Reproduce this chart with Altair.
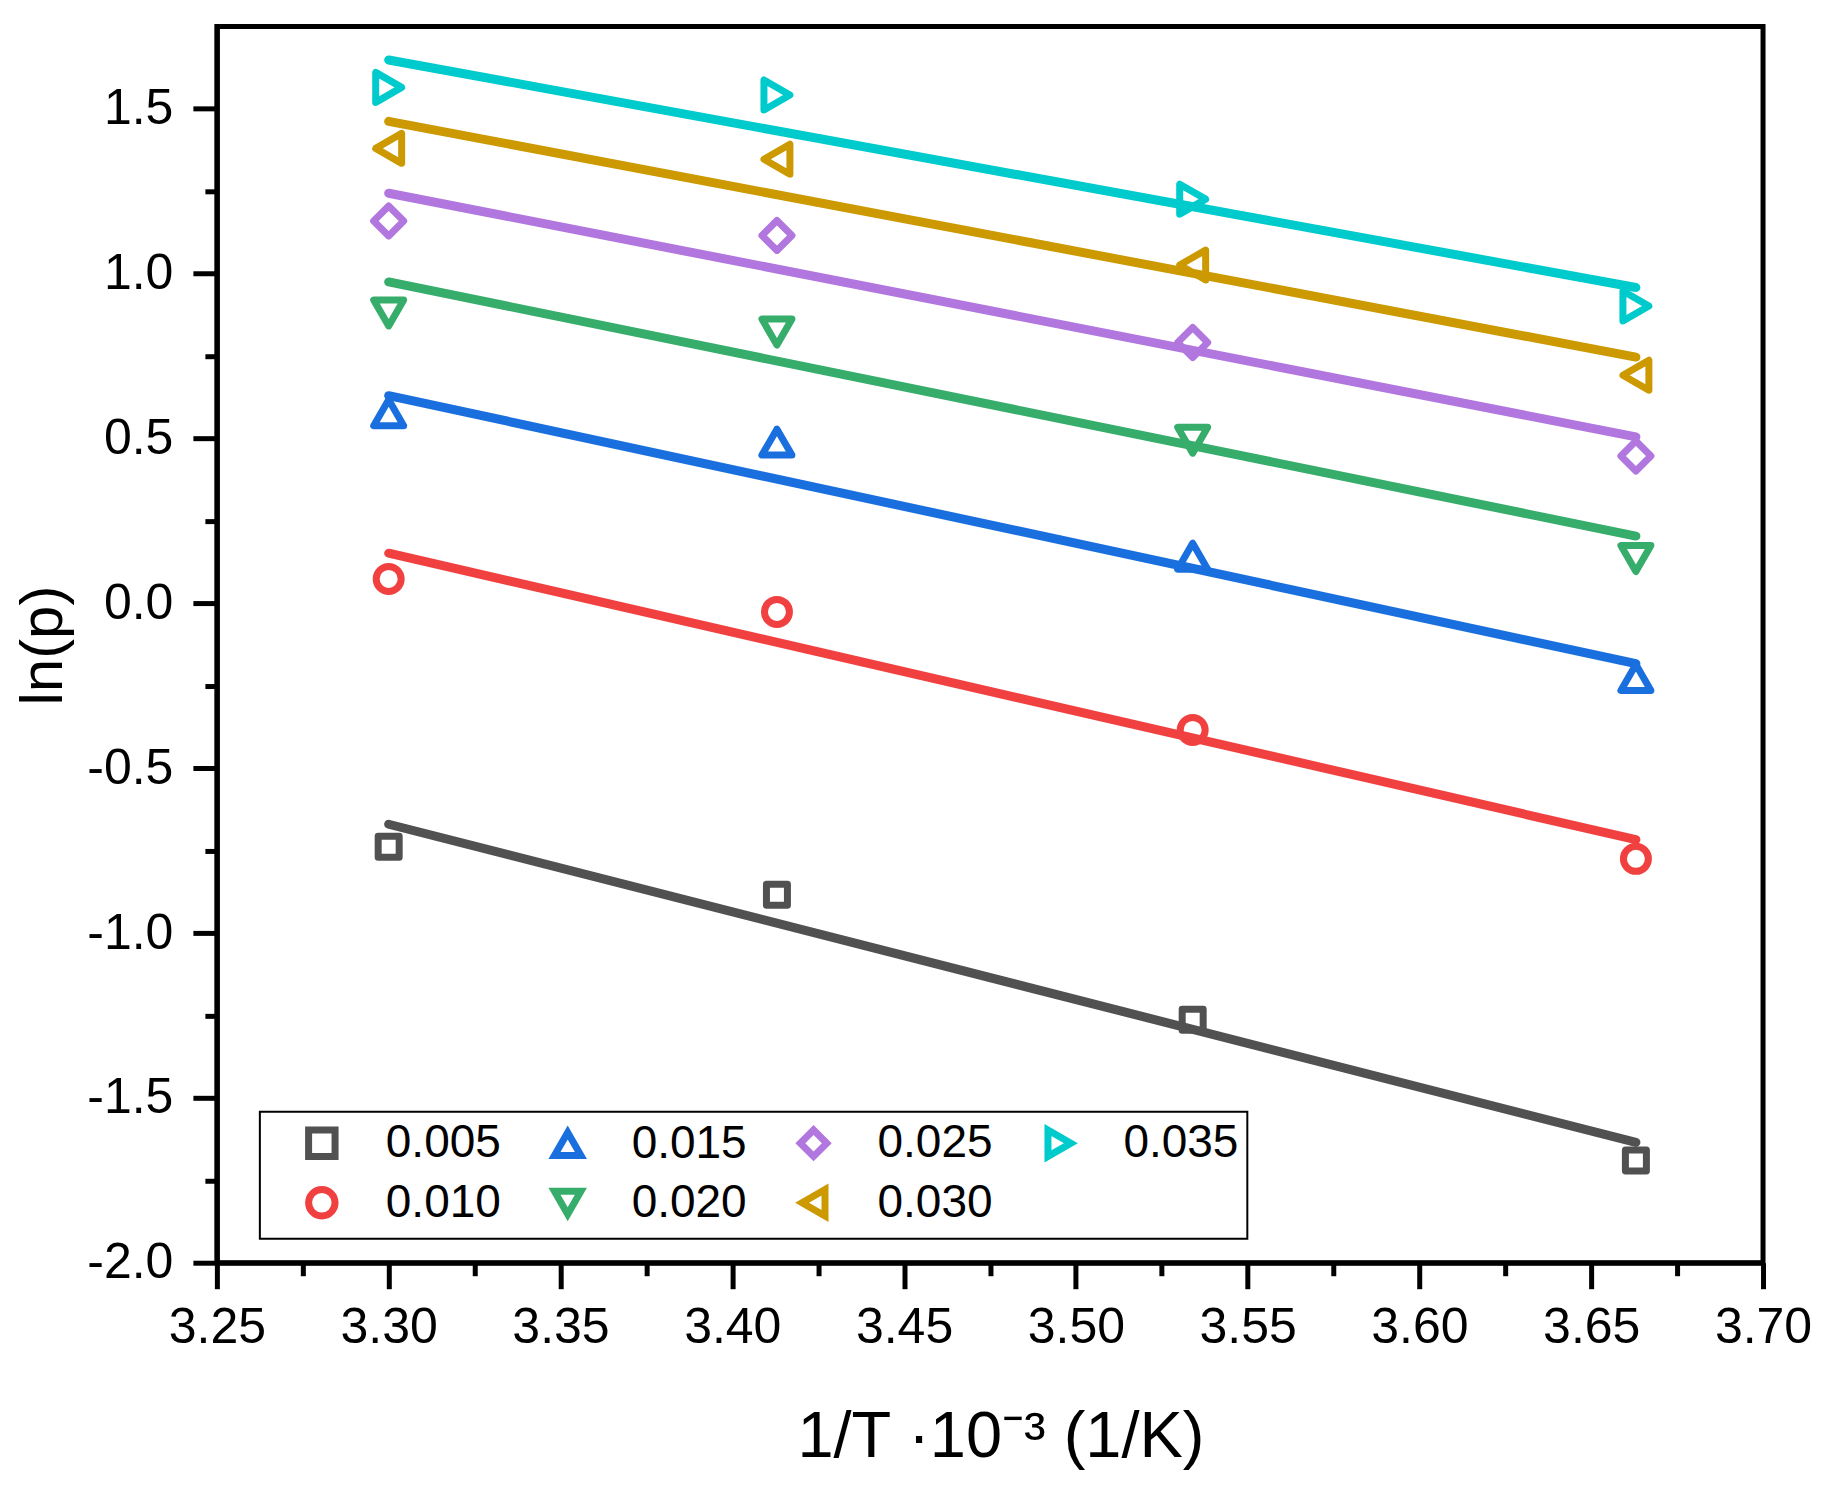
import pandas as pd
import altair as alt

# 1/T * 10^-3 (1/K) for 303, 293, 283 and 273 K
inv_T = [3.300, 3.413, 3.534, 3.663]

series = ['0.005', '0.010', '0.015', '0.020', '0.025', '0.030', '0.035']

# measured ln(p) for each series
lnp_005 = [-0.738, -0.884, -1.263, -1.690]
lnp_010 = [0.074, -0.026, -0.384, -0.775]
lnp_015 = [0.578, 0.489, 0.143, -0.225]
lnp_020 = [0.881, 0.823, 0.495, 0.136]
lnp_025 = [1.160, 1.116, 0.791, 0.447]
lnp_030 = [1.380, 1.347, 1.026, 0.692]
lnp_035 = [1.565, 1.542, 1.226, 0.902]

# fitted lines, value at first and last 1/T
fit_first = [-0.670, 0.152, 0.630, 0.975, 1.244, 1.462, 1.648]
fit_last = [-1.635, -0.717, -0.183, 0.204, 0.505, 0.747, 0.958]

# Origin default palette and symbols, in series order
colors = ['#515151', '#F14040', '#1A6FDF', '#37AD6B', '#B177DE', '#CC9900', '#00CBCC']
shapes = ['square', 'circle', 'triangle-up', 'triangle-down', 'diamond', 'triangle-left', 'triangle-right']
sizes = [441, 625, 900, 900, 900, 900, 900]

measured = [lnp_005, lnp_010, lnp_015, lnp_020, lnp_025, lnp_030, lnp_035]
points = pd.DataFrame(
    [{'x': x, 'y': y, 'c': s} for s, ys in zip(series, measured) for x, y in zip(inv_T, ys)]
)
points['sz'] = points['c'].map(dict(zip(series, sizes)))
lines = pd.DataFrame(
    [{'x': inv_T[0], 'y': a, 'c': s} for s, a in zip(series, fit_first)]
    + [{'x': inv_T[-1], 'y': b, 'c': s} for s, b in zip(series, fit_last)]
)

FONT = 'Liberation Sans'
x_scale = alt.Scale(domain=[3.25, 3.70], nice=False, zero=False)
y_scale = alt.Scale(domain=[-2.0, 1.75], nice=False, zero=False)
color_scale = alt.Scale(domain=series, range=colors)

x_major = [3.25, 3.30, 3.35, 3.40, 3.45, 3.50, 3.55, 3.60, 3.65, 3.70]
x_minor = [3.275, 3.325, 3.375, 3.425, 3.475, 3.525, 3.575, 3.625, 3.675]
y_major = [-2.0, -1.5, -1.0, -0.5, 0.0, 0.5, 1.0, 1.5]
y_minor = [-1.75, -1.25, -0.75, -0.25, 0.25, 0.75, 1.25]

x_axis_major = alt.Axis(
    orient='bottom', values=x_major, format='.2f', title='1/T ·10⁻³ (1/K)',
    domainWidth=5, domainColor='black', tickWidth=5, tickSize=26, tickColor='black',
    labelFontSize=50, labelPadding=14, labelFont=FONT, labelColor='black', labelFlush=False,
    titleFontSize=65, titleFont=FONT, titleFontWeight='normal', titleColor='black',
    titleBaseline='alphabetic', titleX=784, titleY=194, grid=False,
)
x_axis_minor = alt.Axis(
    orient='bottom', values=x_minor, labels=False, title=None, domain=False,
    tickWidth=5, tickSize=13, tickColor='black', grid=False,
)
y_axis_major = alt.Axis(
    orient='left', values=y_major, title='ln(p)',
    labelExpr="datum.value < 0 ? '-' + format(-datum.value, '.1f') : format(datum.value, '.1f')",
    domainWidth=5, domainColor='black', tickWidth=5, tickSize=24, tickColor='black',
    labelFontSize=50, labelPadding=20, labelFont=FONT, labelColor='black', labelFlush=False,
    titleFontSize=60, titleFont=FONT, titleFontWeight='normal', titleColor='black',
    titleAngle=270, titleBaseline='alphabetic', titleAlign='center', titleX=-155, titleY=619,
    grid=False,
)
y_axis_minor = alt.Axis(
    orient='left', values=y_minor, labels=False, title=None, domain=False,
    tickWidth=5, tickSize=12, tickColor='black', grid=False,
)

fit = alt.Chart(lines).mark_line(strokeWidth=9, strokeCap='round').encode(
    x=alt.X('x:Q', scale=x_scale, axis=x_axis_minor),
    y=alt.Y('y:Q', scale=y_scale, axis=y_axis_minor),
    color=alt.Color('c:N', scale=color_scale, legend=None),
    detail='c:N',
)

# entries fill column by column, two rows
legend = alt.Legend(
    title=None, orient='none', legendX=43, legendY=1086, columns=4,
    labelFontSize=46, labelFont=FONT, labelColor='black',
    symbolStrokeWidth=7, symbolSize=700, symbolOffset=31, labelOffset=41,
    columnPadding=12, rowPadding=4, padding=8,
    strokeColor='black', fillColor='white',
)

marks = alt.Chart(points).mark_point(filled=False, strokeWidth=7, strokeJoin='round', opacity=1).encode(
    x=alt.X('x:Q', scale=x_scale, axis=x_axis_major),
    y=alt.Y('y:Q', scale=y_scale, axis=y_axis_major),
    color=alt.Color('c:N', scale=color_scale, legend=legend),
    shape=alt.Shape('c:N', scale=alt.Scale(domain=series, range=shapes), legend=legend),
    size=alt.Size('sz:Q', scale=None, legend=None),
)

chart = alt.layer(fit, marks).resolve_axis(
    x='independent', y='independent'
).resolve_legend(
    color='independent', shape='independent'
).properties(
    width=1547,
    height=1237,
    autosize=alt.AutoSizeParams(type='none'),
    padding={'left': 209, 'top': 18, 'right': 60, 'bottom': 225},
    background='white',
).configure_view(
    stroke='black', strokeWidth=5
).configure_legend(
    strokeWidth=2
)

chart.save('out.html', embed_options={'renderer': 'svg', 'actions': False})
